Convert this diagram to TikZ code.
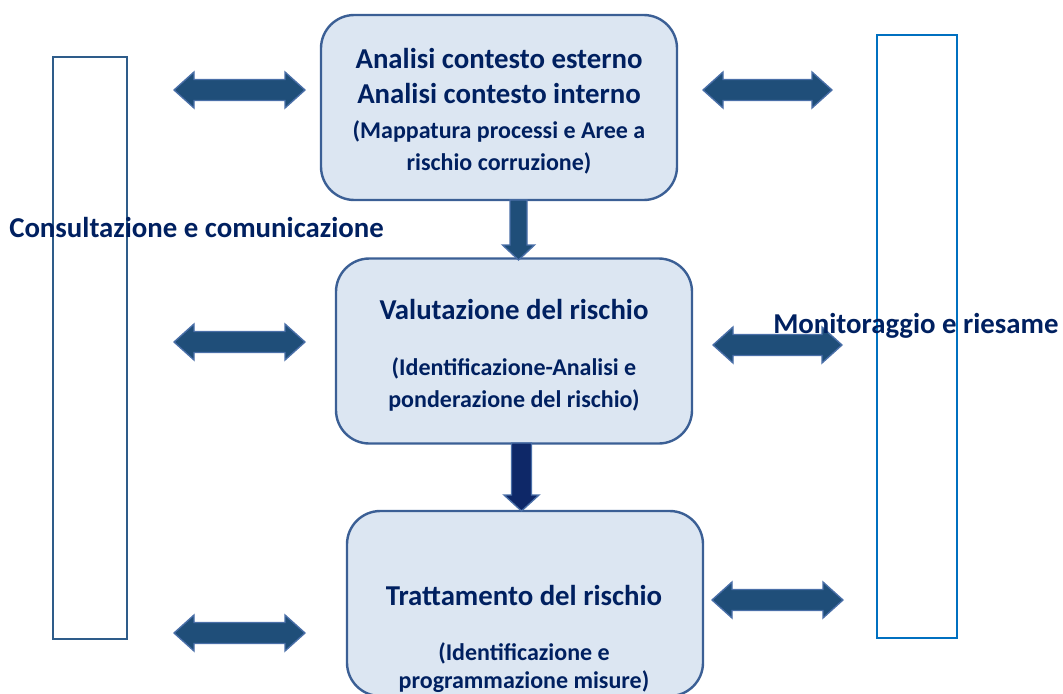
\documentclass[tikz,border=0pt]{standalone}
\usepackage{fontspec}
\setmainfont{Carlito}
\usetikzlibrary{calc}
\definecolor{txtblue}{HTML}{002060}
\definecolor{boxfill}{HTML}{DCE6F2}
\definecolor{boxline}{HTML}{3B5F95}
\definecolor{arrfill}{HTML}{1F4E79}
\definecolor{arrline}{HTML}{4A6FA8}
\definecolor{arrdark}{HTML}{0E2868}
\definecolor{leftline}{HTML}{2E5C8A}
\definecolor{rightline}{HTML}{0070C0}
\newcommand\dblarrow[3]{\draw[fatarrow] (#1,#3) -- (#1+20,#3-18) -- (#1+20,#3-10.5) -- (#2-20,#3-10.5) -- (#2-20,#3-18) -- (#2,#3) -- (#2-20,#3+18) -- (#2-20,#3+10.5) -- (#1+20,#3+10.5) -- (#1+20,#3+18) -- cycle;}
\newcommand\downarr[7]{\draw[#1] (#2-#5,#3) -- (#2+#5,#3) -- (#2+#5,#4-#7) -- (#2+#6,#4-#7) -- (#2,#4) -- (#2-#6,#4-#7) -- (#2-#5,#4-#7) -- cycle;}
\tikzset{
  stagebox/.style={draw=boxline, fill=boxfill, line width=1.8pt, rounded corners=25pt,
    minimum width=267pt, minimum height=138.75pt, inner sep=0pt},
  bigtxt/.style={text=txtblue, font=\fontsize{21.6pt}{26pt}\selectfont\bfseries, anchor=base, inner sep=0pt},
  smalltxt/.style={text=txtblue, font=\fontsize{18pt}{22pt}\selectfont\bfseries, anchor=base, inner sep=0pt},
  fatarrow/.style={fill=arrfill, draw=arrline, line width=1pt, line join=miter},
  downa/.style={fill=arrfill, draw=arrline, line width=1pt},
  downb/.style={fill=arrdark, draw=arrline, line width=1pt},
}
\begin{document}
\begin{tikzpicture}[x=0.75pt,y=-0.75pt]
\useasboundingbox (0,0) rectangle (1063,693);
% side rectangles
\node[draw=leftline, line width=1.6pt, minimum width=55.5pt, minimum height=436.5pt, inner sep=0pt] (cons) at (90,348) {};
\node[draw=rightline, line width=1.6pt, minimum width=60pt, minimum height=452.25pt, inner sep=0pt] (moni) at (917,336.5) {};
% stage boxes
\node[stagebox] (b1) at (499,107.5) {};
\node[stagebox] (b2) at (514,351) {};
\node[stagebox] (b3) at (525,603.5) {};
% down arrows between boxes
\downarr{downa}{518.5}{200}{260}{8.5}{16}{15}
\downarr{downb}{521.5}{443}{511}{10}{17.5}{16}
% double arrows left
\dblarrow{174}{305}{90}
\dblarrow{174}{305}{342}
\dblarrow{174}{305}{633}
% double arrows right
\dblarrow{703}{832}{90}
\dblarrow{713}{842}{345}
\dblarrow{712}{843}{600}
% texts box 1
\node[bigtxt] (t11) at (499,68) {Analisi contesto esterno};
\node[bigtxt] (t12) at (499,103) {Analisi contesto interno};
\node[smalltxt] (t13) at (499,138) {(Mappatura processi e Aree a};
\node[smalltxt] (t14) at (499,170) {rischio corruzione)};
% texts box 2
\node[bigtxt] (t21) at (514,319) {Valutazione del rischio};
\node[smalltxt] (t22) at (514,375) {(Identificazione-Analisi e};
\node[smalltxt] (t23) at (514,407) {ponderazione del rischio)};
% texts box 3
\node[bigtxt] (t31) at (524,605) {Trattamento del rischio};
\node[smalltxt] (t32) at (524,660) {(Identificazione e};
\node[smalltxt] (t33) at (524,688) {programmazione misure)};
% side labels
\node[bigtxt, anchor=base west] (lc) at (9,237) {Consultazione e comunicazione};
\node[bigtxt, anchor=base west] (lm) at (773,333) {Monitoraggio e riesame};
\end{tikzpicture}
\end{document}
